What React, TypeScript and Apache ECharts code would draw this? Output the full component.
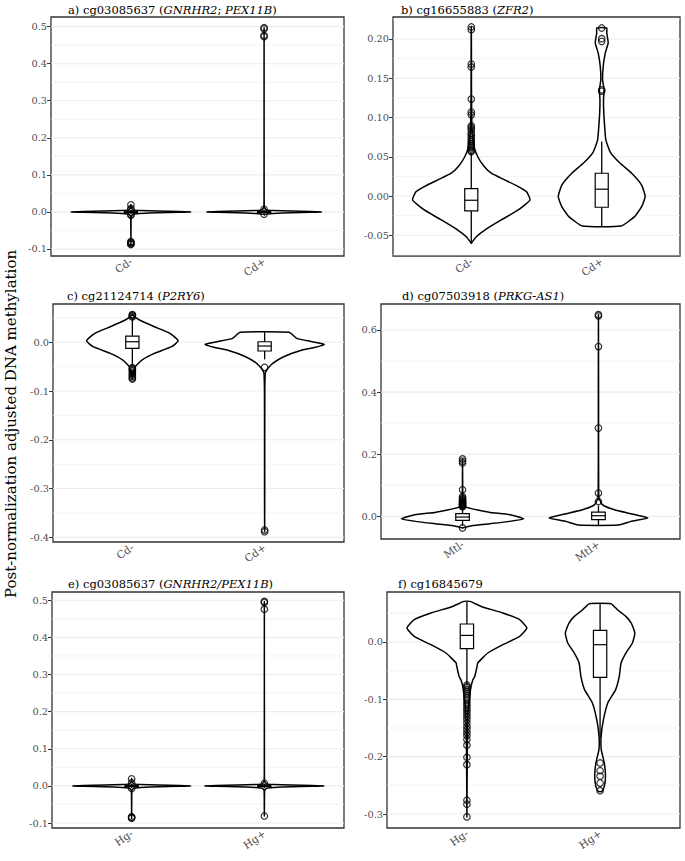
import React, { useEffect, useRef } from 'react';
import * as echarts from 'echarts';

// ---------- categories ----------
const catsCd = ['Cd-', 'Cd+'];
const catsMtl = ['Mtl-', 'Mtl+'];
const catsHg = ['Hg-', 'Hg+'];

// ---------- violin profiles: [value, relative half-width] ----------
const violinA1 = [[-0.088, 0], [-0.03, 0.002], [-0.012, 0.006], [-0.0055, 0.04], [-0.004, 0.15], [-0.0025, 0.45], [-0.0012, 0.8], [0, 1], [0.0012, 0.8], [0.0025, 0.45], [0.004, 0.15], [0.0055, 0.04], [0.012, 0.005], [0.02, 0]];
const violinA2 = [[-0.007, 0], [-0.0055, 0.04], [-0.004, 0.15], [-0.0025, 0.45], [-0.0012, 0.78], [0, 0.96], [0.0012, 0.78], [0.0025, 0.45], [0.004, 0.15], [0.0055, 0.04], [0.012, 0.005], [0.05, 0.001], [0.497, 0]];
const violinB1 = [[-0.0602, 0], [-0.0518, 0.085], [-0.0433, 0.23], [-0.0305, 0.51], [-0.0178, 0.8], [-0.005, 1.0], [0.0056, 0.94], [0.012, 0.8], [0.0205, 0.57], [0.029, 0.34], [0.0375, 0.22], [0.05, 0.11], [0.063, 0.045], [0.0765, 0.02], [0.09, 0.01], [0.11, 0.006], [0.14, 0.003], [0.17, 0.003], [0.2, 0.002], [0.2153, 0]];
const violinB2 = [[-0.0382, 0.33], [-0.0262, 0.56], [-0.0135, 0.68], [-0.0007, 0.74], [0.014, 0.68], [0.029, 0.51], [0.042, 0.31], [0.056, 0.145], [0.0714, 0.07], [0.0885, 0.05], [0.1056, 0.035], [0.1226, 0.03], [0.1353, 0.04], [0.148, 0.015], [0.165, 0.025], [0.182, 0.06], [0.195, 0.11], [0.2077, 0.085], [0.214, 0.085]];
const violinC1 = [[-0.0753, 0], [-0.065, 0.01], [-0.05, 0.05], [-0.0363, 0.16], [-0.0226, 0.37], [-0.009, 0.66], [0.0033, 0.77], [0.0185, 0.63], [0.032, 0.37], [0.0457, 0.12], [0.052, 0.04], [0.057, 0]];
const violinC2 = [[-0.3885, 0], [-0.3, 0.002], [-0.2, 0.002], [-0.1, 0.003], [-0.065, 0.01], [-0.06, 0.02], [-0.053, 0.056], [-0.043, 0.135], [-0.0295, 0.32], [-0.0158, 0.63], [-0.0103, 0.85], [-0.0042, 1.0], [0.0012, 0.8], [0.0081, 0.54], [0.0205, 0.41]];
const violinD1 = [[-0.0374, 0], [-0.03, 0.15], [-0.0235, 0.45], [-0.016, 0.77], [-0.0074, 1.0], [0.0055, 0.78], [0.0129, 0.45], [0.0215, 0.23], [0.029, 0.066], [0.0376, 0.01], [0.07, 0.004], [0.1, 0.002], [0.185, 0]];
const violinD2 = [[-0.028, 0.32], [-0.016, 0.53], [-0.005, 0.81], [0.0087, 0.53], [0.0215, 0.26], [0.0344, 0.09], [0.043, 0.04], [0.048, 0.035], [0.055, 0.01], [0.075, 0.004], [0.2, 0.002], [0.4, 0.002], [0.65, 0]];
const violinE1 = [[-0.088, 0], [-0.03, 0.002], [-0.012, 0.006], [-0.0055, 0.04], [-0.004, 0.15], [-0.0025, 0.45], [-0.0012, 0.8], [0, 0.99], [0.0012, 0.8], [0.0025, 0.45], [0.004, 0.15], [0.0055, 0.04], [0.012, 0.005], [0.02, 0]];
const violinE2 = [[-0.081, 0], [-0.03, 0.002], [-0.012, 0.006], [-0.0055, 0.04], [-0.004, 0.15], [-0.0025, 0.45], [-0.0012, 0.8], [0, 1.0], [0.0012, 0.8], [0.0025, 0.45], [0.004, 0.15], [0.0055, 0.04], [0.012, 0.005], [0.05, 0.001], [0.497, 0]];
const violinF1 = [[-0.305, 0], [-0.25, 0.003], [-0.2, 0.006], [-0.15, 0.012], [-0.118, 0.02], [-0.095, 0.045], [-0.0774, 0.07], [-0.066, 0.1], [-0.06, 0.13], [-0.054, 0.145], [-0.0425, 0.17], [-0.0366, 0.18], [-0.0192, 0.35], [-0.0047, 0.6], [0.0098, 0.88], [0.0244, 1.0], [0.039, 0.88], [0.0506, 0.6], [0.062, 0.24], [0.0708, 0.05]];
const violinF2 = [[-0.2606, 0.03], [-0.252, 0.07], [-0.234, 0.09], [-0.211, 0.07], [-0.188, 0.02], [-0.1647, 0.017], [-0.1355, 0.056], [-0.106, 0.13], [-0.083, 0.26], [-0.06, 0.32], [-0.0366, 0.35], [-0.0192, 0.43], [-0.0017, 0.54], [0.0157, 0.58], [0.033, 0.52], [0.0447, 0.43], [0.0563, 0.29], [0.0668, 0.18]];

// ---------- box stats: [lower whisker, q1, median, q3, upper whisker] ----------
const boxA1 = [-0.006, -0.002, 0, 0.002, 0.006];
const boxA2 = [-0.005, -0.0015, 0.0005, 0.0025, 0.006];
const boxB1 = [-0.0602, -0.019, -0.0054, 0.0095, 0.055];
const boxB2 = [-0.0382, -0.0143, 0.0087, 0.029, 0.0694];
const boxC1 = [-0.049, -0.0123, 0.0012, 0.0129, 0.05];
const boxC2 = [-0.035, -0.0178, -0.0076, 0.0012, 0.0205];
const boxD1 = [-0.031, -0.0129, -0.002, 0.0087, 0.03];
const boxD2 = [-0.028, -0.0106, 0.0022, 0.0141, 0.035];
const boxE1 = [-0.006, -0.002, 0, 0.002, 0.006];
const boxE2 = [-0.006, -0.0015, 0.0005, 0.0025, 0.006];
const boxF1 = [-0.075, -0.0117, 0.0115, 0.0314, 0.0708];
const boxF2 = [-0.1675, -0.0617, -0.0047, 0.0203, 0.0668];

// ---------- outliers ----------
const outA1 = [0.019, 0.009, 0.007, -0.007, -0.009, -0.08, -0.082, -0.084, -0.086, -0.088];
const outA2 = [0.497, 0.494, 0.476, 0.473, 0.007, -0.006];
const outB1 = [0.0566, 0.058, 0.06, 0.062, 0.063, 0.065, 0.067, 0.0694, 0.072, 0.075, 0.078, 0.08, 0.0843, 0.087, 0.0894, 0.1034, 0.1069, 0.1235, 0.1643, 0.168, 0.2119, 0.2153];
const outB2 = [0.1335, 0.1353, 0.197, 0.2004, 0.214];
const outC1 = [0.052, 0.054, 0.056, 0.057, -0.052, -0.054, -0.056, -0.058, -0.061, -0.064, -0.067, -0.07, -0.073, -0.0753];
const outC2 = [-0.0513, -0.385, -0.3885];
const outD1 = [-0.037, 0.031, 0.033, 0.035, 0.037, 0.039, 0.041, 0.043, 0.045, 0.047, 0.05, 0.053, 0.056, 0.06, 0.064, 0.0859, 0.172, 0.178, 0.185];
const outD2 = [0.048, 0.0752, 0.2842, 0.5466, 0.645, 0.6495];
const outE1 = [0.019, 0.008, -0.007, -0.083, -0.085, -0.087];
const outE2 = [0.497, 0.494, 0.476, 0.007, -0.081];
const outF1 = [-0.075, -0.078, -0.08, -0.083, -0.086, -0.09, -0.094, -0.098, -0.102, -0.107, -0.111, -0.116, -0.12, -0.125, -0.13, -0.135, -0.141, -0.147, -0.152, -0.158, -0.163, -0.17, -0.18, -0.201, -0.214, -0.276, -0.283, -0.305];
const outF2 = [-0.211, -0.2245, -0.234, -0.246, -0.2594];

// ---------- axis ticks ----------
const ticksA = [-0.1, 0, 0.1, 0.2, 0.3, 0.4, 0.5];
const ticksB = [-0.05, 0, 0.05, 0.1, 0.15, 0.2];
const ticksC = [-0.4, -0.3, -0.2, -0.1, 0];
const ticksD = [0, 0.2, 0.4, 0.6];
const ticksE = [-0.1, 0, 0.1, 0.2, 0.3, 0.4, 0.5];
const ticksF = [-0.3, -0.2, -0.1, 0];
const minorA = [-0.05, 0.05, 0.15, 0.25, 0.35, 0.45];
const minorB = [-0.075, -0.025, 0.025, 0.075, 0.125, 0.175, 0.225];
const minorC = [-0.35, -0.25, -0.15, -0.05, 0.05];
const minorD = [0.1, 0.3, 0.5];
const minorE = [-0.05, 0.05, 0.15, 0.25, 0.35, 0.45];
const minorF = [-0.25, -0.15, -0.05, 0.05];

const titles = [
  'a) cg03085637 ({i|GNRHR2}; {i|PEX11B})',
  'b) cg16655883 ({i|ZFR2})',
  'c) cg21124714 ({i|P2RY6})',
  'd) cg07503918 ({i|PRKG-AS1})',
  'e) cg03085637 ({i|GNRHR2/PEX11B})',
  'f) cg16845679',
];
const yTitle = 'Post-normalization adjusted DNA methylation';

const FONT = "'DejaVu Serif', serif";

const panels = [
  { cats: catsCd, violins: [violinA1, violinA2], boxes: [boxA1, boxA2], outs: [outA1, outA2], ticks: ticksA, minor: minorA, dec: 1, ymin: -0.119, ymax: 0.526, grid: { left: 51, top: 17, width: 293, height: 239 }, title: { left: 68, top: 4 } },
  { cats: catsCd, violins: [violinB1, violinB2], boxes: [boxB1, boxB2], outs: [outB1, outB2], ticks: ticksB, minor: minorB, dec: 2, ymin: -0.0764, ymax: 0.228, grid: { left: 393, top: 17, width: 287, height: 239 }, title: { left: 401, top: 4 } },
  { cats: catsCd, violins: [violinC1, violinC2], boxes: [boxC1, boxC2], outs: [outC1, outC2], ticks: ticksC, minor: minorC, dec: 1, ymin: -0.4096, ymax: 0.0786, grid: { left: 53, top: 304, width: 291, height: 238 }, title: { left: 67, top: 290 } },
  { cats: catsMtl, violins: [violinD1, violinD2], boxes: [boxD1, boxD2], outs: [outD1, outD2], ticks: ticksD, minor: minorD, dec: 1, ymin: -0.0727, ymax: 0.6836, grid: { left: 381, top: 304, width: 299, height: 235 }, title: { left: 402, top: 290 } },
  { cats: catsHg, violins: [violinE1, violinE2], boxes: [boxE1, boxE2], outs: [outE1, outE2], ticks: ticksE, minor: minorE, dec: 1, ymin: -0.1134, ymax: 0.5223, grid: { left: 52, top: 592, width: 292, height: 236 }, title: { left: 68, top: 578 } },
  { cats: catsHg, violins: [violinF1, violinF2], boxes: [boxF1, boxF2], outs: [outF1, outF2], ticks: ticksF, minor: minorF, dec: 1, ymin: -0.3244, ymax: 0.0872, grid: { left: 387, top: 592, width: 293, height: 236 }, title: { left: 398, top: 578 } },
];

function buildOption() {
  const grid: any[] = [];
  const xAxis: any[] = [];
  const yAxis: any[] = [];
  const series: any[] = [];
  const title: any[] = [];

  panels.forEach((p, i) => {
    grid.push({ ...p.grid, show: true, borderColor: '#333', borderWidth: 1.3, backgroundColor: '#fff', z: 0 });
    title.push({
      text: titles[i],
      left: p.title.left,
      top: p.title.top,
      padding: 0,
      textStyle: {
        fontFamily: FONT, fontSize: 11.5, fontWeight: 'normal', color: '#000',
        rich: { i: { fontFamily: FONT, fontSize: 11.5, fontStyle: 'italic', color: '#000' } },
      },
    });
    xAxis.push({
      type: 'value', gridIndex: i, min: 0.4, max: 2.6,
      axisLine: { show: false },
      splitLine: { show: false },
      axisTick: { show: true, customValues: [1, 2], length: 4, lineStyle: { color: '#333', width: 1 } },
      axisLabel: {
        show: true, customValues: [1, 2], rotate: 35, margin: 4,
        fontFamily: FONT, fontSize: 10.5, color: '#4d4d4d',
        formatter: (v: number) => p.cats[Math.round(v) - 1] || '',
      },
    });
    yAxis.push({
      type: 'value', gridIndex: i, min: p.ymin, max: p.ymax,
      axisLine: { show: false },
      splitLine: { show: false },
      axisTick: { show: true, customValues: p.ticks, length: 4, lineStyle: { color: '#333', width: 1 } },
      axisLabel: {
        show: true, customValues: p.ticks, margin: 4,
        fontFamily: FONT, fontSize: 9.8, color: '#4d4d4d',
        formatter: (v: number) => v.toFixed(p.dec),
      },
    });

    const gridData = p.ticks.map((v) => [v, 1]).concat(p.minor.map((v) => [v, 0]));
    series.push({
      type: 'custom', xAxisIndex: i, yAxisIndex: i, z: 1, silent: true,
      data: gridData,
      renderItem: (params: any, api: any) => {
        const v = api.value(0);
        const major = api.value(1);
        const a = api.coord([0.4, v]);
        const b = api.coord([2.6, v]);
        return {
          type: 'line',
          shape: { x1: a[0], y1: a[1], x2: b[0], y2: b[1] },
          style: { stroke: major ? '#ebebeb' : '#f1f1f1', lineWidth: major ? 1.1 : 0.7 },
        };
      },
    });

    series.push({
      type: 'custom', xAxisIndex: i, yAxisIndex: i, z: 3, silent: true,
      data: [[1, 0], [2, 0]],
      renderItem: (params: any, api: any) => {
        const ci = api.value(0);
        const prof = p.violins[ci - 1];
        const box = p.boxes[ci - 1];
        const hw = 0.45;
        const left = prof.map(([v, f]) => api.coord([ci - f * hw, v]));
        const right = prof.slice().reverse().map(([v, f]) => api.coord([ci + f * hw, v]));
        const pts = left.concat(right);
        const bw = 0.05;
        const [lo, q1, med, q3, hi] = box;
        const tl = api.coord([ci - bw, q3]);
        const br = api.coord([ci + bw, q1]);
        const mL = api.coord([ci - bw, med]);
        const mR = api.coord([ci + bw, med]);
        const wTop = api.coord([ci, hi]);
        const wQ3 = api.coord([ci, q3]);
        const wQ1 = api.coord([ci, q1]);
        const wLo = api.coord([ci, lo]);
        return {
          type: 'group',
          children: [
            { type: 'polygon', shape: { points: pts, smooth: 0.15 }, style: { fill: '#fff', stroke: '#000', lineWidth: 1.5, lineJoin: 'round' } },
            { type: 'line', shape: { x1: wQ3[0], y1: wQ3[1], x2: wTop[0], y2: wTop[1] }, style: { stroke: '#000', lineWidth: 1.3 } },
            { type: 'line', shape: { x1: wQ1[0], y1: wQ1[1], x2: wLo[0], y2: wLo[1] }, style: { stroke: '#000', lineWidth: 1.3 } },
            { type: 'rect', shape: { x: tl[0], y: tl[1], width: br[0] - tl[0], height: Math.max(br[1] - tl[1], 0.5) }, style: { fill: '#fff', stroke: '#000', lineWidth: 1.2 } },
            { type: 'line', shape: { x1: mL[0], y1: mL[1], x2: mR[0], y2: mR[1] }, style: { stroke: '#000', lineWidth: 1.2 } },
          ],
        };
      },
    });

    const outData: number[][] = [];
    p.outs.forEach((arr, k) => arr.forEach((v) => outData.push([k + 1, v])));
    series.push({
      type: 'scatter', xAxisIndex: i, yAxisIndex: i, z: 4, silent: true,
      symbol: 'circle', symbolSize: 6.5,
      itemStyle: { color: 'rgba(0,0,0,0)', borderColor: '#000', borderWidth: 1.2 },
      data: outData,
    });
  });

  return {
    animation: false,
    backgroundColor: '#fff',
    title,
    grid,
    xAxis,
    yAxis,
    series,
    graphic: [
      {
        type: 'text', x: 11, y: 424, rotation: Math.PI / 2,
        style: { text: yTitle, fontFamily: FONT, fontSize: 15, fill: '#000', align: 'center', verticalAlign: 'middle' },
      },
    ],
  };
}

export default function App() {
  const ref = useRef<HTMLDivElement>(null);
  useEffect(() => {
    if (!ref.current) return;
    const chart = echarts.init(ref.current, undefined, { renderer: 'svg' });
    chart.setOption(buildOption() as any);
    return () => chart.dispose();
  }, []);
  return <div ref={ref} style={{ position: 'fixed', left: 0, top: 0, width: 685, height: 861, background: '#fff' }} />;
}
